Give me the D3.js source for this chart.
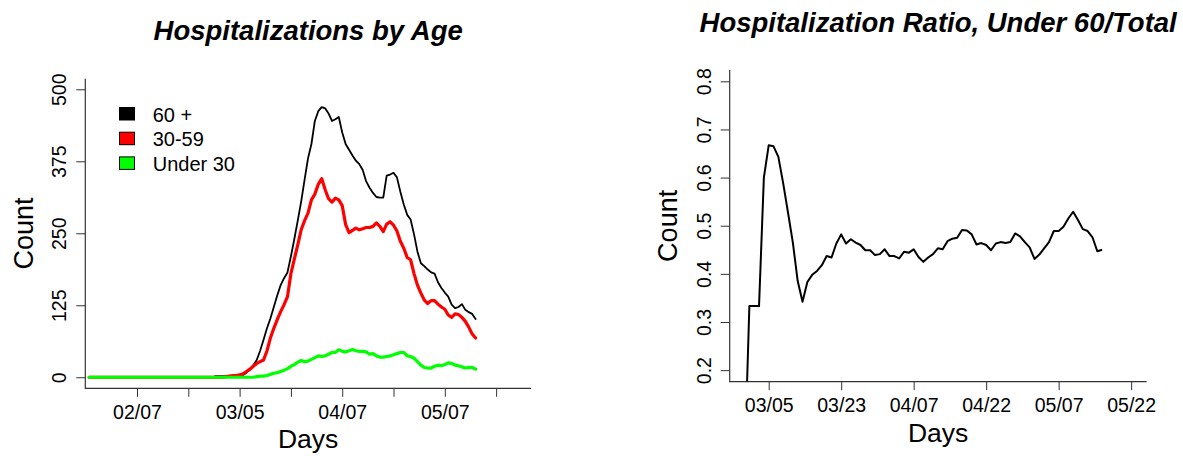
<!DOCTYPE html>
<html>
<head>
<meta charset="utf-8">
<script src="https://cdn.jsdelivr.net/npm/d3@7"></script>
<style>
  body { margin: 0; background: #fff; }
  text { font-family: "Liberation Sans", Arial, sans-serif; fill: #000; }
</style>
</head>
<body>
<svg id="chart" width="1183" height="456"></svg>
<script>
// day index 1 is the first day of the series
var firstDay = 1;

var over60 = [
    0,0,0,0,0,0,0,0,0,0, 0,0,0,0,0,0,0,0,0,0, 0,0,0,0,0,0,0,0,0,0, 0,0,0,0,0,0,0,
    2,2,2,2,2,2,3,3,4,8,
    13,21,30,46,65,85,102,122,142,160,
    172,182,210,240,272,305,343,380,405,445,
    462,469,467,458,445,448,452,425,405,395,
    385,376,370,360,340,329,320,313,312,312,
    350,352,355,347,322,300,282,274,248,218,
    198,193,187,182,180,165,155,147,140,126,
    120,122,127,117,113,110,101
]

var age30to59 = [
    0,0,0,0,0,0,0,0,0,0, 0,0,0,0,0,0,0,0,0,0, 0,0,0,0,0,0,0,0,0,0, 0,0,0,0,0,0,0,0,0,0,
    1,2,3,3,4,6,10,14,19,
    24,27,30,46,68,85,100,114,126,140,
    180,205,230,256,272,285,308,318,335,345,
    326,310,304,311,308,298,265,251,255,259,
    256,258,260,260,262,268,262,253,266,270,
    264,254,236,224,208,204,180,160,146,134,
    128,133,133,127,122,118,108,104,110,109,
    104,97,87,75,68
]

var under30 = [
    0,0,0,0,0,0,0,0,0,0, 0,0,0,0,0,0,0,0,0,0, 0,0,0,0,0,0,0,0,0,0, 0,0,0,0,0,0,0,0,0,0,
    0,0,0,0,0,0,0,0,0,
    1,2,2,3,5,7,8,10,12,15,
    19,22,26,29,27,28,31,34,37,36,
    37,40,43,43,48,45,44,46,48,46,
    45,45,44,40,41,37,35,35,36,37,
    39,41,43,43,37,36,33,27,21,17,
    16,16,19,21,20,22,25,24,21,20,
    18,16,17,17,14
]

// ratio series starts at day 40
var ratioFirstDay = 40;
var ratio = [
    0,.333,.333,.333,.6,.667,.665,.643,.588,.527,
    .465,.385,.342,.383,.398,.406,.418,.437,.434,.463,
    .482,.463,.472,.465,.46,.449,.449,.439,.441,.451,
    .437,.437,.432,.446,.444,.451,.435,.425,.434,.441,
    .453,.451,.468,.473,.475,.491,.490,.482,.461,.464,
    .46,.449,.463,.466,.464,.466,.484,.478,.466,.455,
    .431,.44,.453,.466,.489,.489,.498,.515,.529,.512,
    .493,.489,.476,.447,.45
]

var leftTickDays = [15, 30, 45, 60, 75, 90, 105, 120]
var leftTickLabels = ["02/07", "", "03/05", "", "04/07", "", "05/07", ""]
var leftYTicks = [0, 125, 250, 375, 500]

var rightTickDays = [45, 60, 75, 90, 105, 120]
var rightTickLabels = ["03/05", "03/23", "04/07", "04/22", "05/07", "05/22"]
var rightYTicks = [0.2, 0.3, 0.4, 0.5, 0.6, 0.7, 0.8]

var legendNames = ["60 +", "30-59", "Under 30"]
var colors = ["#000000", "#ff0000", "#00ff00"]

var svg = d3.select("#chart")

function drawPanel(opt) {
    var x = d3.scaleLinear().domain(opt.xDomain).range([opt.left, opt.right])
    var y = d3.scaleLinear().domain(opt.yDomain).range([opt.bottom, opt.top])
    var g = svg.append("g")

    // x axis
    var xa = g.append("g")
        .attr("transform", "translate(0," + opt.bottom + ")")
        .call(d3.axisBottom(x).tickValues(opt.xTicks).tickSize(8.5)
            .tickFormat(function (d, i) { return opt.xLabels[i]; }))
    xa.select(".domain").remove()
    xa.selectAll("line").attr("stroke", "#333")
    xa.selectAll("text").attr("y", 30.7).attr("dy", 0)
        .style("font-size", "19.5px").attr("fill", "#000")

    // y axis, labels rotated like R
    var ya = g.append("g")
        .attr("transform", "translate(" + opt.left + ",0)")
        .call(d3.axisLeft(y).tickValues(opt.yTicks).tickSize(9)
            .tickFormat(opt.yFormat))
    ya.select(".domain").remove()
    ya.selectAll("line").attr("stroke", "#333")
    ya.selectAll("text")
        .attr("x", 0).attr("dy", 0)
        .attr("transform", "translate(-19,0) rotate(-90)")
        .attr("text-anchor", "middle")
        .style("font-size", "19.5px").attr("fill", "#000")

    // L-shaped box
    g.append("path")
        .attr("d", "M" + opt.left + "," + opt.top + "V" + opt.bottom + "H" + opt.right)
        .attr("fill", "none").attr("stroke", "#333").attr("stroke-width", 1.2)

    // titles
    var cx = (opt.left + opt.right) / 2
    g.append("text").attr("x", cx).attr("y", opt.titleY)
        .attr("text-anchor", "middle")
        .style("font-size", "27.5px").style("font-weight", "bold").style("font-style", "italic")
        .text(opt.title)
    g.append("text").attr("x", cx).attr("y", opt.bottom + 60)
        .attr("text-anchor", "middle").style("font-size", "26.5px")
        .text("Days")
    g.append("text")
        .attr("transform", "translate(" + (opt.left - 52.5) + "," + ((opt.top + opt.bottom) / 2) + ") rotate(-90)")
        .attr("text-anchor", "middle").style("font-size", "27px")
        .text("Count")

    return { g: g, x: x, y: y }
}

// left panel
var L = drawPanel({
    left: 85.3, right: 531, top: 78.7, bottom: 388.3,
    xDomain: [-0.12, 130.2], yDomain: [-19.2, 518.4],
    xTicks: leftTickDays, xLabels: leftTickLabels,
    yTicks: leftYTicks, yFormat: d3.format("d"),
    title: "Hospitalizations by Age", titleY: 39.5
})

var seriesList = [over60, age30to59, under30]
var widths = [1.8, 3.2, 3.2]
seriesList.forEach(function (s, k) {
    var line = d3.line()
        .x(function (d, i) { return L.x(firstDay + i); })
        .y(function (d) { return L.y(d); })
    L.g.append("path")
        .datum(s)
        .attr("d", line)
        .attr("fill", "none")
        .attr("stroke", colors[k])
        .attr("stroke-width", widths[k])
        .attr("stroke-linejoin", "round")
        .attr("stroke-linecap", "round")
})

// legend
var leg = L.g.append("g")
legendNames.forEach(function (name, k) {
    leg.append("rect")
        .attr("x", 119.5).attr("y", 107.5 + k * 24.7)
        .attr("width", 15).attr("height", 12.5)
        .attr("fill", colors[k]).attr("stroke", "#000").attr("stroke-width", 1)
    leg.append("text")
        .attr("x", 152.7).attr("y", 121.5 + k * 24.7)
        .style("font-size", "20px")
        .text(name)
})

// right panel
var R = drawPanel({
    left: 729.7, right: 1146.6, top: 70, bottom: 381.7,
    xDomain: [36.93, 123.2], yDomain: [0.176, 0.8235],
    xTicks: rightTickDays, xLabels: rightTickLabels,
    yTicks: rightYTicks, yFormat: d3.format(".1f"),
    title: "Hospitalization Ratio, Under 60/Total", titleY: 31.7
})

svg.append("clipPath").attr("id", "rclip")
    .append("rect")
    .attr("x", 729.7).attr("y", 70)
    .attr("width", 1146.6 - 729.7).attr("height", 381.7 - 70)

R.g.append("path")
    .datum(ratio)
    .attr("clip-path", "url(#rclip)")
    .attr("d", d3.line()
        .x(function (d, i) { return R.x(ratioFirstDay + i); })
        .y(function (d) { return R.y(d); }))
    .attr("fill", "none")
    .attr("stroke", "#000")
    .attr("stroke-width", 2)
    .attr("stroke-linejoin", "round")
</script>
</body>
</html>
